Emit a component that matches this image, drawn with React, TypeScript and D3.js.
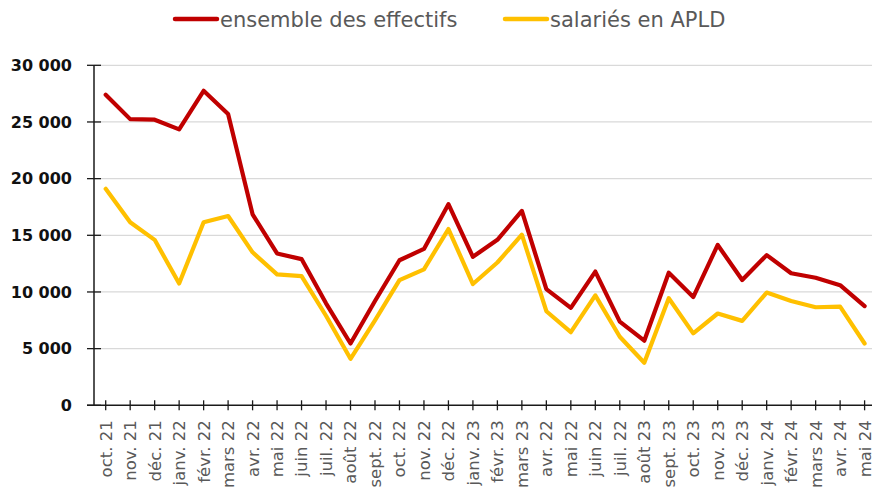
import * as d3 from 'd3'

const months = [
  'oct. 21', 'nov. 21', 'déc. 21', 'janv. 22', 'févr. 22', 'mars 22', 'avr. 22', 'mai 22',
  'juin 22', 'juil. 22', 'août 22', 'sept. 22', 'oct. 22', 'nov. 22', 'déc. 22', 'janv. 23',
  'févr. 23', 'mars 23', 'avr. 22', 'mai 22', 'juin 22', 'juil. 22', 'août 23', 'sept. 23',
  'oct. 23', 'nov. 23', 'déc. 23', 'janv. 24', 'févr. 24', 'mars 24', 'avr. 24', 'mai 24',
]

// ensemble des effectifs
const effectifs = [
  27400, 25250, 25200, 24350, 27750, 25700, 16850, 13400,
  12900, 9000, 5450, 9200, 12800, 13800, 17750, 13100,
  14600, 17150, 10250, 8600, 11800, 7380, 5700, 11700,
  9550, 14150, 11050, 13250, 11650, 11250, 10600, 8750,
]

// salariés en APLD
const apld = [
  19100, 16150, 14600, 10750, 16150, 16700, 13500, 11550,
  11400, 7900, 4100, 7500, 11050, 12000, 15550, 10700,
  12600, 15050, 8300, 6450, 9700, 6050, 3750, 9450,
  6350, 8100, 7450, 9950, 9200, 8650, 8700, 5450,
]

const yTicks = [0, 5000, 10000, 15000, 20000, 25000, 30000]

const series = [
  { name: 'ensemble des effectifs', values: effectifs, color: '#C00000' },
  { name: 'salariés en APLD', values: apld, color: '#FFC000' },
]

const W = 872
const H = 491
const axisX = 94
const baseY = 405.3
const topY = 65.3
const FONT = "'DejaVu Sans', sans-serif"

export default function App() {
  const keys = months.map((m, i) => i + '|' + m)
  const x = d3.scalePoint<string>().domain(keys).range([105.7, 864.6])
  const y = d3.scaleLinear().domain([0, 30000]).range([baseY, topY])
  const fmt = (v: number) => d3.format(',')(v).replace(/,/g, ' ')

  const line = d3.line<number>()
    .x((_, i) => x(keys[i]) as number)
    .y(d => y(d))

  return (
    <svg width={W} height={H} style={{ position: 'absolute', left: 0, top: 0, background: '#fff' }}>
      {/* grid */}
      {yTicks.filter(t => t > 0).map(t => (
        <line key={t} x1={axisX} x2={W} y1={y(t)} y2={y(t)} stroke="#d9d9d9" strokeWidth={1.3} />
      ))}
      {/* y axis */}
      <line x1={axisX} x2={axisX} y1={y(30000)} y2={baseY} stroke="#1a1a1a" strokeWidth={1.5} />
      {yTicks.map(t => (
        <g key={t}>
          <line x1={axisX - 7} x2={axisX + 7} y1={y(t)} y2={y(t)} stroke="#1a1a1a" strokeWidth={1.3} />
          <text x={72} y={y(t)} dy="0.36em" textAnchor="end" fontFamily={FONT}
            fontWeight={700} fontSize={16} fill="#111">{fmt(t)}</text>
        </g>
      ))}
      {/* x axis */}
      <line x1={axisX - 7} x2={W} y1={baseY} y2={baseY} stroke="#1a1a1a" strokeWidth={1.5} />
      {keys.map((k, i) => (
        <g key={k} transform={`translate(${x(k)},${baseY})`}>
          <line y1={-5} y2={5} stroke="#1a1a1a" strokeWidth={1.3} />
          <text transform="rotate(-90)" x={-15} dy="0.36em" textAnchor="end"
            fontFamily={FONT} fontSize={16.5} fill="#595959">{months[i]}</text>
        </g>
      ))}
      {/* lines */}
      {series.map(s => (
        <path key={s.name} d={line(s.values) || ''} fill="none" stroke={s.color}
          strokeWidth={4.2} strokeLinejoin="round" strokeLinecap="round" />
      ))}
      {/* legend */}
      {series.map((s, i) => {
        const lx = i === 0 ? 175 : 505
        return (
          <g key={s.name} transform={`translate(${lx},19)`}>
            <line x1={0} x2={42} stroke={s.color} strokeWidth={4.5} strokeLinecap="round" />
            <text x={45} dy="0.36em" fontFamily={FONT} fontSize={21} fill="#595959">{s.name}</text>
          </g>
        )
      })}
    </svg>
  )
}
